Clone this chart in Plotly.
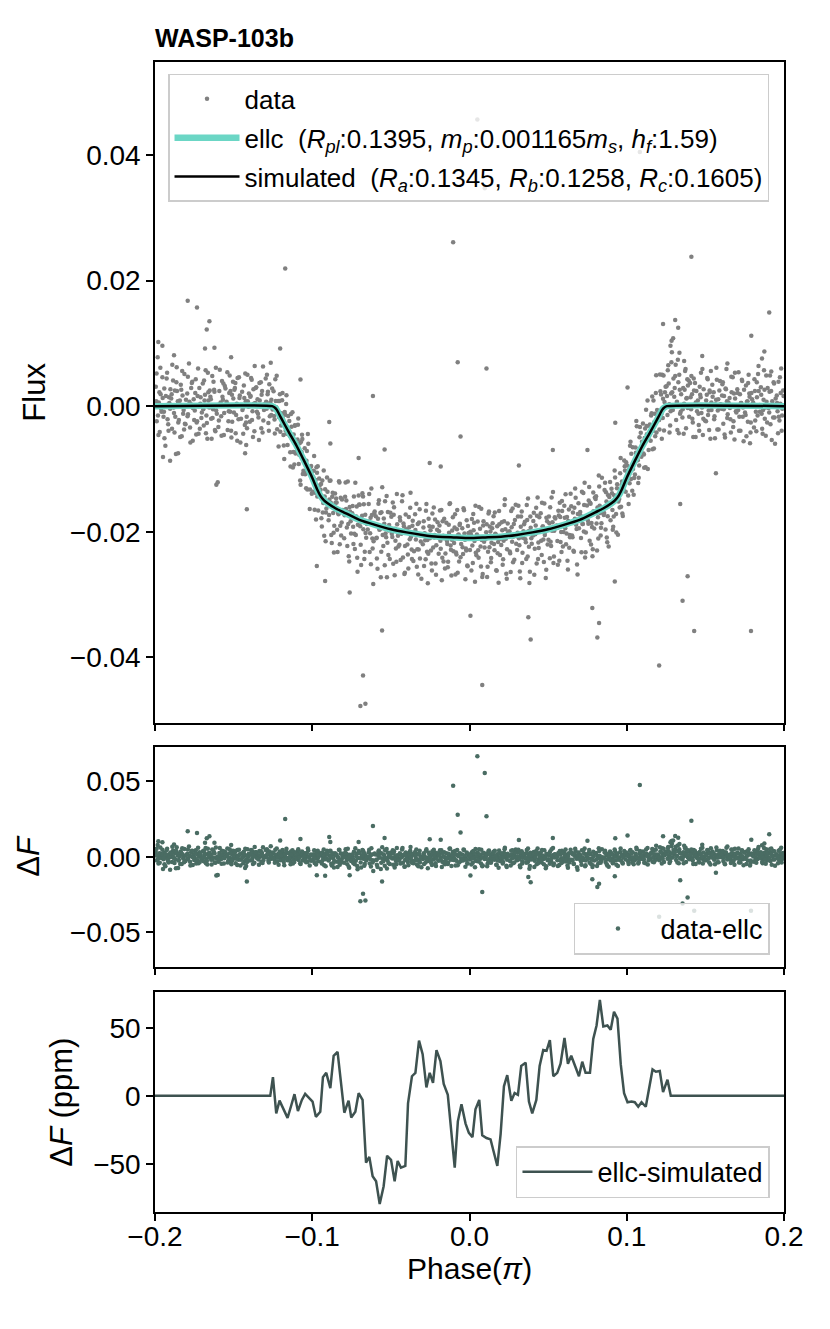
import numpy as np
import plotly.graph_objects as go

# model light curves, phase in units of pi
model_phase = [-0.2, -0.1255, -0.1235, -0.1225, -0.12, -0.115, -0.11, -0.105, -0.1, -0.097,
               -0.095, -0.0925, -0.09, -0.085, -0.08, -0.07, -0.06, -0.05, -0.04, -0.03,
               -0.02, -0.01, 0.0, 0.01, 0.02, 0.03, 0.04, 0.05, 0.06, 0.07, 0.08, 0.085,
               0.09, 0.0925, 0.095, 0.097, 0.1, 0.105, 0.11, 0.115, 0.12, 0.1225, 0.1235,
               0.1255, 0.2]
ellc_flux = [0.0, 0.0, -0.0003, -0.0006, -0.0018, -0.0041, -0.0063, -0.0088, -0.0114, -0.0132,
             -0.0142, -0.0150, -0.0155, -0.0163, -0.0169, -0.0181, -0.0189, -0.0196, -0.0201,
             -0.0205, -0.0208, -0.0209, -0.0210, -0.0209, -0.0208, -0.0205, -0.0201, -0.0196,
             -0.0189, -0.0181, -0.0169, -0.0163, -0.0155, -0.0150, -0.0142, -0.0132, -0.0114,
             -0.0088, -0.0063, -0.0041, -0.0018, -0.0006, -0.0003, 0.0, 0.0]
sim_flux = [0.0, 0.0, -0.0003, -0.0006, -0.0018, -0.0041, -0.0063, -0.0088, -0.0114, -0.0132,
            -0.0142, -0.0150, -0.0155, -0.0163, -0.0169, -0.0181, -0.0189, -0.0196, -0.0201,
            -0.0205, -0.0208, -0.0209, -0.0210, -0.0209, -0.0208, -0.0205, -0.0201, -0.0196,
            -0.0189, -0.0181, -0.0169, -0.0163, -0.0155, -0.0150, -0.0142, -0.0132, -0.0114,
            -0.0088, -0.0063, -0.0041, -0.0018, -0.0006, -0.0003, 0.0, 0.0]

# observations: phase (milli-pi) and data-ellc (milli-flux), main cloud
phase_a = [
    -199.5, -198.9, -198.3, -197.6, -197.0, -196.4, -195.9, -195.3,
    -194.6, -194.1, -193.4, -192.8, -192.3, -191.6, -191.1, -190.4,
    -189.7, -189.2, -188.5, -187.9, -187.4, -186.7, -186.2, -185.5,
    -184.8, -184.2, -183.6, -183.0, -182.5, -181.8, -181.3, -180.6,
    -179.5, -179.0, -178.4, -177.7, -177.2, -176.6, -176.0, -175.4,
    -174.7, -174.1, -173.5, -172.9, -172.3, -171.8, -171.2, -170.5,
    -169.6, -169.0, -168.5, -167.8, -167.3, -166.7, -166.1, -165.5,
    -164.8, -164.3, -163.6, -163.1, -162.4, -161.9, -161.3, -160.7,
    -159.7, -159.1, -158.6, -157.9, -157.4, -156.8, -156.2, -155.6,
    -154.5, -154.0, -153.3, -152.8, -152.2, -151.6, -151.1, -150.4,
    -149.8, -149.2, -148.7, -148.0, -147.5, -146.9, -146.3, -145.7,
    -144.6, -144.1, -143.5, -142.9, -142.3, -141.7, -141.2, -140.5,
    -139.7, -139.2, -138.5, -138.0, -137.4, -136.8, -136.3, -135.6,
    -134.8, -134.2, -133.6, -133.1, -132.4, -131.9, -131.3, -130.7,
    -129.6, -129.0, -128.4, -127.9, -127.3, -126.7, -126.1, -125.5,
    -124.6, -124.0, -123.5, -122.9, -122.3, -121.7, -121.2, -120.6,
    -119.8, -119.2, -118.6, -118.1, -117.5, -116.9, -116.4, -115.7,
    -114.6, -114.0, -113.5, -112.9, -112.3, -111.8, -111.1, -110.6,
    -109.7, -109.1, -108.6, -108.0, -107.4, -106.8, -106.3, -105.6,
    -104.8, -104.3, -103.7, -103.1, -102.5, -101.9, -101.4, -100.7,
    -99.6, -99.0, -98.5, -97.9, -97.3, -96.8, -96.2, -95.6,
    -94.7, -94.2, -93.6, -93.0, -92.4, -91.8, -91.3, -90.6,
    -89.6, -89.1, -88.4, -87.9, -87.3, -86.7, -86.2, -85.5,
    -84.8, -84.2, -83.6, -83.0, -82.5, -81.9, -81.3, -80.6,
    -79.7, -79.1, -78.5, -78.0, -77.4, -76.8, -76.2, -75.6,
    -74.6, -74.0, -73.5, -72.9, -72.3, -71.7, -71.2, -70.5,
    -69.8, -69.2, -68.6, -68.1, -67.5, -66.9, -66.3, -65.7,
    -64.7, -64.1, -63.5, -62.9, -62.4, -61.8, -61.2, -60.6,
    -59.6, -59.0, -58.5, -57.9, -57.3, -56.7, -56.1, -55.5,
    -54.8, -54.2, -53.7, -53.0, -52.5, -51.9, -51.3, -50.7,
    -49.7, -49.1, -48.5, -48.0, -47.3, -46.8, -46.2, -45.5,
    -44.6, -44.1, -43.4, -42.9, -42.3, -41.7, -41.1, -40.6,
    -39.8, -39.2, -38.6, -38.0, -37.5, -36.8, -36.3, -35.7,
    -34.6, -34.1, -33.5, -32.9, -32.3, -31.7, -31.2, -30.6,
    -29.7, -29.1, -28.5, -27.9, -27.4, -26.8, -26.2, -25.5,
    -24.8, -24.2, -23.6, -23.1, -22.4, -21.9, -21.3, -20.6,
    -19.6, -19.1, -18.5, -17.9, -17.3, -16.7, -16.1, -15.6,
    -14.7, -14.1, -13.6, -13.0, -12.4, -11.8, -11.2, -10.6,
    -9.8, -9.2, -8.6, -8.0, -7.5, -6.9, -6.3, -5.7,
    -4.6, -4.1, -3.5, -2.9, -2.3, -1.8, -1.2, -0.6,
    0.3, 0.9, 1.5, 2.1, 2.6, 3.2, 3.8, 4.4,
    5.2, 5.8, 6.4, 7.0, 7.5, 8.1, 8.7, 9.3,
    10.4, 10.9, 11.5, 12.1, 12.7, 13.3, 13.8, 14.4,
    15.3, 15.9, 16.4, 17.0, 17.6, 18.2, 18.8, 19.4,
    20.2, 20.8, 21.4, 22.0, 22.5, 23.1, 23.7, 24.3,
    25.4, 25.9, 26.5, 27.1, 27.7, 28.2, 28.8, 29.4,
    30.3, 30.8, 31.4, 32.0, 32.6, 33.2, 33.7, 34.3,
    35.2, 35.8, 36.4, 37.0, 37.5, 38.1, 38.7, 39.3,
    40.4, 40.9, 41.5, 42.1, 42.7, 43.3, 43.8, 44.4,
    45.3, 45.9, 46.5, 47.0, 47.6, 48.2, 48.8, 49.4,
    50.2, 50.8, 51.3, 51.9, 52.5, 53.1, 53.7, 54.2,
    55.4, 55.9, 56.5, 57.1, 57.7, 58.3, 58.8, 59.4,
    60.3, 60.9, 61.4, 62.0, 62.6, 63.2, 63.7, 64.3,
    65.2, 65.8, 66.4, 67.0, 67.5, 68.1, 68.7, 69.3,
    70.4, 70.9, 71.5, 72.1, 72.7, 73.2, 73.8, 74.4,
    75.3, 75.8, 76.4, 77.0, 77.6, 78.2, 78.7, 79.3,
    80.2, 80.8, 81.4, 81.9, 82.5, 83.1, 83.6, 84.2,
    85.4, 85.9, 86.5, 87.1, 87.6, 88.2, 88.8, 89.4,
    90.3, 90.9, 91.4, 92.0, 92.6, 93.2, 93.8, 94.4,
    95.2, 95.8, 96.4, 97.0, 97.5, 98.1, 98.7, 99.3,
    100.3, 100.9, 101.5, 102.1, 102.7, 103.3, 103.8, 104.4,
    105.2, 105.8, 106.4, 107.0, 107.6, 108.1, 108.7, 109.3,
    110.3, 110.9, 111.4, 112.0, 112.6, 113.2, 113.8, 114.3,
    115.2, 115.8, 116.4, 117.0, 117.5, 118.1, 118.7, 119.3,
    120.2, 120.8, 121.4, 122.0, 122.5, 123.1, 123.7, 124.3,
    125.3, 125.9, 126.4, 127.0, 127.6, 128.2, 128.7, 129.3,
    130.2, 130.8, 131.4, 131.9, 132.5, 133.1, 133.7, 134.3,
    135.4, 135.9, 136.5, 137.1, 137.7, 138.2, 138.8, 139.4,
    140.3, 140.9, 141.5, 142.0, 142.6, 143.2, 143.8, 144.3,
    145.2, 145.8, 146.4, 147.0, 147.5, 148.1, 148.7, 149.3,
    150.4, 150.9, 151.5, 152.1, 152.7, 153.2, 153.8, 154.4,
    155.3, 155.8, 156.4, 157.0, 157.6, 158.2, 158.7, 159.3,
    160.2, 160.8, 161.4, 161.9, 162.5, 163.1, 163.7, 164.2,
    165.4, 165.9, 166.5, 167.1, 167.7, 168.2, 168.8, 169.4,
    170.3, 170.9, 171.4, 172.0, 172.6, 173.2, 173.8, 174.3,
    175.2, 175.8, 176.4, 177.0, 177.5, 178.1, 178.7, 179.3,
    180.4, 180.9, 181.5, 182.1, 182.7, 183.2, 183.8, 184.4,
    185.3, 185.8, 186.4, 187.0, 187.6, 188.2, 188.7, 189.3,
    190.2, 190.8, 191.4, 191.9, 192.5, 193.1, 193.7, 194.3,
    195.4, 195.9, 196.5, 197.1, 197.7, 198.2, 198.8, 199.4,
]
resid_a = [
    3.1, -2.4, 7.8, 0.6, -4.1, 1.9, -0.9, 4.6,
    -1.7, 2.8, -6.3, 0.2, 5.3, -2.9, 1.4, -0.4,
    1.2, -3.6, 4.1, -1.1, 2.5, -7.6, 6.2, 0.8,
    -2.2, 0.9, 3.4, -4.8, 1.7, -0.6, 5.1, -2.9,
    2.0, -1.3, 6.8, -3.4, 0.3, 3.7, -5.5, 1.1,
    -0.7, 4.3, -2.6, 1.6, -4.4, 2.9, 0.4, -1.9,
    3.6, -3.1, 0.9, 5.7, -1.5, -5.2, 2.2, -0.2,
    1.5, -2.0, 4.8, -0.5, 2.6, -3.8, 6.1, -1.2,
    -3.3, 2.4, 0.1, -1.6, 4.0, 1.0, -4.6, 3.2,
    0.7, 5.4, -2.4, 2.1, -0.9, -3.9, 1.8, 3.9,
    -1.0, 2.9, -4.3, 0.4, 4.5, -2.1, 1.3, -5.8,
    2.3, -0.3, 3.3, -3.0, 0.8, -1.7, 5.0, -0.1,
    -2.5, 1.6, 4.2, -0.8, 2.7, -4.0, 0.5, 3.0,
    1.1, -1.8, 3.7, 0.0, -3.5, 2.4, 6.3, -0.6,
    4.4, -0.4, 1.9, -2.7, 3.5, 0.6, -1.4, 2.8,
    2.5, -1.9, 4.6, 0.3, -3.0, 1.8, -0.5, 3.4,
    -1.2, 3.1, 0.4, -3.6, 2.0, -0.7, 5.2, -2.4,
    1.9, -2.8, 3.5, -0.2, -4.5, 1.0, 2.7, -1.5,
    -0.6, 3.8, -2.2, 1.4, -4.9, 0.6, 2.9, -1.8,
    2.2, -1.4, 0.8, -3.5, 4.1, -0.3, -2.6, 1.5,
    -2.0, 1.7, -4.2, 0.9, 3.3, -1.1, -3.0, 2.4,
    1.0, -3.4, 2.8, -0.6, -5.6, 1.9, -1.7, 4.0,
    -2.6, 0.8, 3.9, -4.7, 1.5, -1.0, -7.2, 2.3,
    1.6, -3.3, -0.5, 4.6, -5.4, 2.1, -1.8, 0.3,
    -4.1, 2.6, 0.7, -2.2, 5.2, -6.6, 1.3, -0.9,
    0.5, -1.6, 3.3, -5.0, -2.7, 1.9, -8.4, 3.8,
    2.4, -3.9, -0.2, 4.4, -1.3, -6.0, 1.1, -2.5,
    -1.1, 3.0, -4.6, 0.9, 5.6, -2.3, -9.5, 1.8,
    1.4, -2.0, -6.9, 3.5, -0.6, 2.1, -4.0, 6.3,
    -3.0, 0.6, 4.2, -1.5, -7.8, 2.6, -0.3, -4.8,
    2.0, -1.2, -5.4, 3.6, 0.2, -2.9, 5.8, -0.8,
    -2.2, 1.7, -0.4, 4.8, -4.1, 0.9, -6.5, 2.8,
    0.4, -3.5, 2.5, -1.0, 6.4, -2.6, 1.2, -4.4,
    3.1, -0.9, -5.2, 1.6, -2.4, 4.0, -0.1, -7.0,
    -1.5, 2.2, 0.3, -3.8, 5.0, -0.7, -2.9, 1.5,
    0.9, -4.4, 3.6, -1.8, -0.2, 2.7, -6.1, 1.1,
    -2.7, 1.8, -0.6, 4.3, -3.3, 0.2, 2.9, -5.0,
    2.3, -1.1, -3.9, 0.7, 5.4, -2.0, -0.4, 3.2,
    -0.9, 3.7, -2.4, 1.3, -5.6, 0.5, 2.0, -3.1,
    1.5, -2.6, 4.4, -0.3, -1.7, 2.8, -4.5, 0.8,
    -1.9, 0.6, 3.0, -4.0, 1.2, -0.5, 5.1, -2.8,
    2.6, -3.2, 0.1, -1.4, 4.6, -6.3, 1.9, -0.7,
    -0.2, 2.1, -4.7, 3.8, -1.6, 0.9, -3.3, 1.4,
    3.3, -2.1, 0.5, -5.3, 1.7, -0.8, 4.1, -2.9,
    -1.3, 1.0, -3.6, 2.4, 5.9, -0.4, -6.8, 2.0,
    0.7, -2.8, 3.9, -1.0, -4.3, 1.8, -0.1, 4.8,
    -2.4, 2.9, -0.6, -5.9, 1.2, 3.6, -3.0, 0.4,
    1.9, -1.4, 4.5, -3.7, 0.3, -8.0, 2.6, -0.9,
    -0.5, 3.1, -2.7, 1.0, -5.1, 5.4, -1.8, 2.2,
    2.8, -3.9, 0.6, -1.5, 4.2, -0.3, -6.4, 1.3,
    -1.7, 0.9, 3.4, -2.8, -0.4, 5.7, -4.6, 1.6,
    0.2, -2.3, 2.5, -5.5, 1.4, -1.0, 3.9, -3.4,
    3.0, -0.6, -3.2, 1.1, -7.3, 2.2, -1.9, 4.6,
    -2.1, 1.5, -4.8, 0.4, 3.7, -1.3, -8.6, 2.7,
    1.2, -3.0, 4.3, -0.9, -2.2, 5.5, -5.6, 0.0,
    -0.8, 2.4, -4.1, 1.7, -1.4, -6.8, 3.3, -2.5,
    2.1, -1.9, 0.6, -4.4, 3.8, -0.5, -2.9, 5.0,
    -1.1, 2.8, -3.6, 0.8, -5.8, 1.6, -0.2, 3.5,
    2.3, -1.2, -4.0, 0.9, 3.6, -2.4, 1.5, -6.1,
    -0.7, 3.1, -2.5, 1.2, -4.6, 0.3, 2.6, -1.8,
    1.8, -3.3, 0.5, 4.0, -1.6, -0.4, 2.9, -5.0,
    -2.2, 1.0, 4.9, -0.8, -3.9, 2.3, 0.1, -1.4,
    3.4, -1.8, 0.6, -4.3, 2.0, 5.8, -0.6, 1.3,
    -1.5, 2.6, -3.4, 4.1, 0.4, -2.1, 7.3, 1.5,
    0.8, -2.3, 3.5, -0.4, 5.6, 1.6, -3.6, 2.4,
    3.2, -1.4, 6.5, 0.3, -3.1, 2.0, 8.6, -0.6,
    1.5, 4.8, -2.2, 0.7, 7.4, -4.3, 2.6, -0.9,
    -1.8, 2.9, 0.4, 5.6, -3.5, 1.3, -0.3, 4.1,
    3.7, -0.5, 1.9, -2.6, 4.4, 0.2, -4.9, 2.4,
    0.9, -3.0, 3.1, 1.4, -1.1, 5.9, -2.0, 0.1,
    -2.4, 1.8, 4.3, -0.7, 2.5, -5.2, 0.6, 3.4,
    2.2, -1.6, 0.3, 6.1, -3.7, 1.1, -0.2, 4.0,
    -0.4, 3.5, -2.8, 1.6, -5.0, 2.7, 0.8, -1.3,
    1.3, -2.1, 4.7, 0.1, -3.3, 2.0, 5.3, -0.8,
    2.7, -0.6, -3.9, 1.9, 0.5, 4.2, -1.7, -5.6,
    -1.0, 3.3, 0.7, -2.5, 5.0, 1.5, -4.2, 2.1,
    0.6, -3.4, 2.4, -0.9, 3.8, -1.5, 6.4, 0.2,
    3.0, -1.2, -4.4, 1.0, 2.6, -0.2, 4.9, -2.6,
    -0.3, 2.3, -2.9, 5.5, 0.8, -1.8, 3.6, -6.0,
    1.7, -0.8, 3.9, -2.3, 0.4, 6.0, -1.5, 2.5,
]

# denser core of the cloud
phase_b = [
    -199.2, -198.1, -197.2, -196.1, -195.1, -194.3, -193.1, -192.0, -190.9, -190.2,
    -189.4, -188.2, -187.1, -186.0, -185.2, -184.5, -183.3, -182.1, -181.0, -180.3,
    -179.3, -178.1, -177.0, -175.9, -175.1, -174.4, -173.2, -172.1, -171.0, -170.2,
    -169.3, -168.2, -167.0, -166.0, -165.2, -164.5, -163.4, -162.2, -161.1, -160.3,
    -159.4, -158.3, -157.1, -156.0, -155.2, -154.3, -153.1, -152.0, -150.9, -150.2,
    -149.5, -148.4, -147.2, -146.1, -145.3, -144.4, -143.2, -142.1, -141.0, -140.3,
    -139.4, -138.3, -137.1, -136.0, -135.2, -134.5, -133.4, -132.2, -131.1, -130.4,
    -129.3, -128.2, -127.0, -126.0, -125.2, -124.3, -123.2, -122.0, -120.9, -120.3,
    -119.5, -118.3, -117.2, -116.1, -115.3, -114.3, -113.2, -112.0, -111.0, -110.2,
    -109.4, -108.3, -107.1, -106.0, -105.2, -104.5, -103.4, -102.2, -101.1, -100.3,
    -99.3, -98.2, -97.0, -96.0, -95.3, -94.4, -93.3, -92.1, -91.0, -90.3,
    -89.3, -88.2, -87.0, -86.0, -85.2, -84.5, -83.3, -82.2, -81.1, -80.3,
    -79.4, -78.3, -77.1, -76.0, -75.3, -74.3, -73.2, -72.0, -71.0, -70.2,
    -69.5, -68.3, -67.2, -66.1, -65.3, -64.4, -63.2, -62.1, -61.0, -60.3,
    -59.3, -58.2, -57.0, -56.0, -55.2, -54.5, -53.4, -52.2, -51.1, -50.3,
    -49.4, -48.2, -47.1, -46.0, -45.2, -44.3, -43.2, -42.0, -41.0, -40.3,
    -39.5, -38.3, -37.2, -36.1, -35.3, -34.4, -33.2, -32.1, -31.0, -30.3,
    -29.3, -28.2, -27.0, -26.0, -25.2, -24.5, -23.4, -22.2, -21.1, -20.3,
    -19.4, -18.3, -17.1, -16.0, -15.3, -14.3, -13.2, -12.0, -11.0, -10.2,
    -9.5, -8.3, -7.2, -6.1, -5.3, -4.4, -3.2, -2.1, -1.0, -0.3,
    0.6, 1.8, 2.9, 4.0, 4.7, 5.5, 6.7, 7.8, 8.9, 9.6,
    10.6, 11.8, 12.9, 14.0, 14.7, 15.6, 16.7, 17.9, 18.9, 19.7,
    20.5, 21.7, 22.8, 23.9, 24.6, 25.6, 26.8, 27.9, 28.9, 29.7,
    30.6, 31.7, 32.8, 33.9, 34.7, 35.5, 36.7, 37.8, 38.9, 39.6,
    40.6, 41.8, 42.9, 44.0, 44.7, 45.6, 46.7, 47.9, 48.9, 49.7,
    50.5, 51.6, 52.8, 53.9, 54.6, 55.6, 56.8, 57.9, 58.9, 59.7,
    60.6, 61.7, 62.8, 63.9, 64.7, 65.5, 66.7, 67.8, 68.9, 69.6,
    70.6, 71.8, 72.9, 74.0, 74.7, 75.6, 76.7, 77.9, 78.9, 79.7,
    80.5, 81.7, 82.8, 83.9, 84.6, 85.6, 86.8, 87.9, 88.9, 89.7,
    90.6, 91.7, 92.8, 93.9, 94.7, 95.5, 96.7, 97.8, 98.9, 99.6,
    100.6, 101.8, 102.9, 104.0, 104.7, 105.6, 106.7, 107.9, 108.9, 109.7,
    110.6, 111.7, 112.8, 113.9, 114.7, 115.5, 116.7, 117.8, 118.9, 119.6,
    120.6, 121.8, 122.9, 124.0, 124.7, 125.6, 126.7, 127.9, 128.9, 129.7,
    130.5, 131.7, 132.8, 133.9, 134.6, 135.6, 136.8, 137.9, 138.9, 139.7,
    140.6, 141.7, 142.8, 143.9, 144.7, 145.6, 146.7, 147.9, 148.9, 149.7,
    150.5, 151.7, 152.8, 153.9, 154.6, 155.6, 156.8, 157.9, 158.9, 159.7,
    160.6, 161.7, 162.8, 163.9, 164.7, 165.6, 166.7, 167.9, 168.9, 169.7,
    170.5, 171.6, 172.8, 173.9, 174.6, 175.6, 176.8, 177.9, 178.9, 179.7,
    180.6, 181.7, 182.8, 183.9, 184.7, 185.5, 186.7, 187.8, 188.9, 189.6,
    190.6, 191.8, 192.9, 194.0, 194.7, 195.6, 196.7, 197.9, 198.9, 199.7,
]
resid_b = [
    0.8, -1.5, 2.2, -0.4, 1.3, -0.9, 1.6, -2.1, 0.5, 2.7,
    1.9, -0.2, -1.7, 2.4, -2.6, 0.3, 2.6, -1.2, -2.8, 1.0,
    -1.6, 0.7, 2.9, -0.3, -2.2, 2.1, -2.4, 0.0, 1.4, -1.0,
    -0.5, 1.8, -2.7, 0.9, 2.5, 1.1, -1.9, 2.3, -0.7, 0.2,
    -2.3, 0.6, 1.5, -1.1, 2.8, 0.4, -0.8, 2.4, -2.5, 1.2,
    2.6, -1.4, 0.1, 1.7, -2.0, -0.6, 1.3, -2.6, 0.8, 2.0,
    1.5, -2.2, 0.4, 2.9, -0.9, -1.2, 0.9, 1.8, -2.3, 0.3,
    0.7, 2.3, -1.6, 1.0, -0.5, -1.4, 1.2, -0.3, 2.2, -2.4,
    0.9, -2.0, 1.7, -0.8, 2.4, -0.3, 1.6, -1.9, 2.8, -1.1,
    1.3, -0.6, 2.1, -2.5, 0.2, -1.8, 2.5, 0.0, 1.1, -2.7,
    0.5, -1.3, 2.6, -0.2, 1.4, 2.0, -2.2, 0.7, -1.0, 1.8,
    -1.7, 0.4, 2.2, -2.9, 0.9, 1.0, -0.7, -2.4, 1.9, 0.1,
    -0.4, 2.1, -1.5, 0.6, -2.8, 1.7, -2.6, 0.3, -0.9, 2.4,
    -1.0, 0.8, 2.7, -1.8, -0.3, 0.2, -1.6, 1.4, -2.7, 2.1,
    -2.1, 1.1, -0.5, 2.3, -1.3, 1.4, -0.9, -2.3, 0.6, 2.6,
    -0.7, 2.4, -1.7, 1.0, -2.5, 2.2, -0.3, 1.3, -2.2, 0.5,
    -1.9, 0.9, -0.6, 2.0, -2.8, 0.6, -2.4, 1.9, -1.1, 0.0,
    1.2, -0.8, -2.6, 2.7, -0.4, -2.3, 1.5, 0.2, -1.4, 2.3,
    0.9, -1.9, 2.5, -0.2, -2.6, -0.6, 2.0, -1.3, 1.1, -2.2,
    1.6, -2.7, 0.4, 2.2, -1.0, -1.5, 0.7, -2.0, 1.9, 0.2,
    1.0, -1.2, 2.4, -2.4, 0.5, -2.0, 1.4, -0.4, 2.6, -1.6,
    0.8, -2.3, 1.7, -0.9, 2.2, -1.1, 0.4, -2.6, 2.0, -0.3,
    2.3, -0.7, 1.1, -2.1, 0.6, -2.5, 1.3, -0.2, 2.4, -1.4,
    0.3, -1.7, 2.8, -0.6, 1.5, -0.9, 2.1, -2.2, 0.8, -1.8,
    1.8, -0.4, 2.5, -2.7, 0.1, -1.6, 0.6, -0.8, 1.9, -2.4,
    2.0, -2.1, 0.9, -0.5, 1.4, -0.2, 1.7, -2.6, 2.3, -1.1,
    1.1, -1.5, 0.4, -2.3, 2.6, -2.4, 2.2, -0.6, 1.0, -1.3,
    0.6, -0.9, 2.0, -2.5, 1.7, -1.3, 1.9, -2.1, 0.3, 2.4,
    2.5, -1.0, 0.7, -2.2, -0.4, -0.8, 2.3, -1.7, 1.2, -2.6,
    1.5, -2.4, 0.2, 2.1, -0.9, -2.2, 0.8, -0.5, 1.8, 2.7,
    0.4, -1.8, 2.3, -0.7, -2.5, 1.9, -0.3, -2.1, 2.6, 0.8,
    -1.5, 2.0, 0.6, -2.4, 1.3, 2.4, -0.6, 1.6, -1.9, 0.2,
    -0.7, 2.8, -1.4, 0.9, 3.2, 1.6, 3.6, -0.8, 2.2, 4.4,
    2.9, 0.4, 3.8, -1.2, 1.9, -0.5, 2.6, 1.2, 3.3, -1.7,
    1.4, -2.0, 2.5, 0.6, -0.8, -1.2, 1.8, -0.2, 2.7, -2.3,
    0.9, -1.4, 2.2, -0.6, 1.5, -2.1, 1.0, -0.7, 2.5, 0.3,
    1.7, -0.5, 2.8, -1.9, 0.6, -0.3, 2.2, -2.4, 1.2, -1.0,
    2.1, -1.7, 0.5, -0.2, 2.6, -1.4, 0.8, 2.0, -2.6, 1.1,
    0.2, -2.3, 1.4, 2.4, -0.9, 1.8, -0.6, -2.0, 0.7, 2.9,
    -1.0, 2.4, 0.3, -1.8, 1.2, 0.5, -1.7, 2.1, -0.4, 1.6,
]

# wider fringe of the cloud
phase_c = [
    -199.0, -197.8, -196.6, -194.0, -192.6, -191.4, -189.0, -187.6, -186.4, -184.0,
    -182.7, -181.5, -179.1, -177.5, -176.3, -173.8, -172.6, -171.5, -168.8, -167.6,
    -166.4, -164.0, -162.8, -161.6, -158.8, -157.7, -156.5, -153.8, -152.5, -151.4,
    -148.9, -147.7, -146.6, -143.9, -142.6, -141.5, -138.9, -137.7, -136.6, -133.9,
    -132.7, -131.6, -128.8, -127.6, -126.4, -123.8, -122.6, -121.4, -118.9, -117.8,
    -116.6, -113.8, -112.6, -111.4, -108.9, -107.7, -106.5, -103.9, -102.8, -101.6,
    -98.8, -97.6, -96.5, -93.9, -92.7, -91.5, -88.9, -87.6, -86.4, -83.9,
    -82.7, -81.6, -78.8, -77.7, -76.5, -73.8, -72.6, -71.4, -68.9, -67.7,
    -66.6, -63.8, -62.7, -61.6, -58.9, -57.6, -56.4, -53.9, -52.7, -51.6,
    -48.8, -47.6, -46.5, -43.8, -42.6, -41.4, -38.9, -37.7, -36.6, -33.8,
    -32.6, -31.5, -28.9, -27.7, -26.5, -23.9, -22.7, -21.6, -18.8, -17.6,
    -16.5, -13.8, -12.7, -11.5, -8.9, -7.8, -6.6, -3.8, -2.6, -1.4,
    1.2, 2.4, 3.5, 6.1, 7.3, 8.4, 11.2, 12.4, 13.6, 16.1,
    17.3, 18.5, 21.1, 22.3, 23.4, 26.2, 27.4, 28.5, 31.1, 32.3,
    33.5, 36.1, 37.2, 38.4, 41.2, 42.4, 43.6, 46.1, 47.3, 48.5,
    51.1, 52.2, 53.4, 56.2, 57.4, 58.5, 61.1, 62.3, 63.4, 66.1,
    67.2, 68.4, 71.2, 72.4, 73.5, 76.1, 77.3, 78.4, 81.1, 82.2,
    83.4, 86.2, 87.3, 88.5, 91.1, 92.3, 93.4, 96.1, 97.2, 98.4,
    101.2, 102.4, 103.5, 106.1, 107.3, 108.4, 111.1, 112.3, 113.4, 116.2,
    117.3, 118.5, 121.1, 122.3, 123.4, 126.1, 127.2, 128.4, 131.1, 132.2,
    133.4, 136.2, 137.4, 138.5, 141.1, 142.3, 143.4, 146.1, 147.2, 148.4,
    151.2, 152.4, 153.5, 156.1, 157.3, 158.4, 161.1, 162.2, 163.4, 166.2,
    167.4, 168.5, 171.1, 172.3, 173.4, 176.1, 177.2, 178.4, 181.2, 182.4,
    183.5, 186.1, 187.3, 188.4, 191.1, 192.2, 193.4, 196.2, 197.4, 198.5,
]
resid_c = [
    5.2, -4.6, 6.1, -5.1, 4.4, -3.9, 6.6, -4.2, 3.8, -4.9,
    5.6, -3.7, 4.7, -5.8, 3.9, -4.5, 6.0, -3.6, 4.1, -4.3,
    5.3, -5.2, 3.9, -4.0, 5.8, -4.7, 3.6, -3.8, 4.9, -5.0,
    3.7, -5.5, 4.6, -4.4, 5.2, -3.5, 4.5, -4.9, 6.4, -5.4,
    3.8, -4.2, 5.0, -3.9, 6.9, -4.1, 5.4, -5.3, 4.4, -5.6,
    3.7, -5.0, 4.2, -3.6, 4.9, -4.4, 3.5, -3.7, 5.5, -5.8,
    4.2, -5.2, 3.9, -4.6, 4.7, -6.3, 3.8, -5.9, -4.1, -6.8,
    4.4, -3.9, 4.9, -5.1, -7.4, -4.3, 5.6, -6.2, -7.1, 3.9,
    -4.8, 4.6, -6.5, -3.9, -5.3, 4.1, -8.1, -6.0, 5.1, -4.2,
    4.3, -7.2, -5.0, -4.6, 5.8, -6.7, -5.7, 4.0, -4.1, 4.8,
    -6.4, -3.8, -4.9, 3.9, -7.6, -5.5, 4.6, -4.3, 4.2, -6.9,
    -3.9, -4.8, 5.3, -6.1, -5.9, 4.4, -3.8, 4.7, -6.6, -4.4,
    -5.2, 3.8, -7.0, 4.9, -4.6, -5.8, -6.3, 4.1, -4.0, 3.9,
    -5.4, -7.3, -4.5, 5.0, -6.0, -5.8, 4.3, -3.9, 4.6, -7.0,
    -4.6, -4.1, 5.5, -6.2, -6.8, 3.8, -4.4, 4.4, -5.1, -7.7,
    -4.7, 4.9, -5.6, -6.1, 3.7, -4.2, 4.8, -5.9, -3.9, -4.6,
    5.2, -7.0, -5.3, 4.0, -6.4, 4.5, -4.8, -5.7, -6.2, 5.6,
    -4.1, 3.9, -5.0, -6.6, -4.4, 4.8, -5.4, 5.4, -4.0, 3.7,
    -4.8, 4.5, -3.9, 5.9, -4.6, 3.8, -4.0, 4.7, -5.2, 5.1,
    -3.7, 4.6, 6.3, -4.5, 5.2, 5.7, -4.2, 7.0, 6.6, -3.8,
    5.0, -4.4, 5.9, 4.3, 4.8, -4.9, 3.7, -3.9, 5.3, -4.6,
    4.5, -3.8, 5.6, -5.1, 4.2, -3.7, 3.8, -4.5, 5.9, -4.2,
    4.6, -5.3, 5.4, -3.9, 4.0, -4.8, 3.7, -5.9, 4.3, -4.0,
    5.1, -3.6, 5.7, -4.7, 4.9, -5.4, 3.8, -4.3, 4.6, -3.9,
]

# scattered points away from the cloud
phase_out = [
    -179.2, -173.3, -165.4, -167.1, -117.2, -120.4, -10.4, -7.5, -61.4, -89.2,
    -88.5, -5.7, -70.5, -54.0, -141.6, -160.1, -161.0, -142.7, -142.0, -194.9,
    -190.4, -185.3, -55.6, -67.7, -69.4, -66.2, 0.6, 8.1, 120.6, 179.0,
    142.9, 135.5, 138.7, 134.0, 38.9, 37.4, 81.3, 82.4, 78.1, 156.7,
    5.0, 108.3, 9.7, 141.1, 190.6, 10.8, 130.8, 123.1, 132.7, 53.0,
    75.0, 31.4, -197.9, -195.3, -187.9, -168.2, -162.2, -151.6, 128.5, 127.8,
    129.5, 133.5, 136.5, 148.0, 164.0, 187.5, 186.0, 92.4, -91.8, -97.1,
    -76.2, -107.5, -25.3, -18.3, 92.7, 100.5, 179.2,
]
resid_out = [
    16.8, 15.7, 13.5, 12.2, 25.0, 10.8, 47.0, 27.9, 20.4, 13.1,
    9.8, 16.1, 9.8, 12.4, -16.4, -12.1, -12.5, -7.5, -6.2, -8.1,
    -8.7, -7.5, -16.5, -24.6, -29.6, -29.0, -12.4, -23.5, -39.8, -35.8,
    -35.8, -31.0, -27.1, -15.6, -17.0, -13.4, -20.1, -17.9, -15.0, -10.7,
    66.6, 47.6, 55.6, 23.8, 14.9, 26.9, 13.7, 13.5, 12.5, 12.4,
    10.5, 11.0, 10.2, 9.6, 8.1, 9.2, 9.3, 7.8, 10.4, 9.6,
    10.8, 8.5, 7.2, 8.0, 6.8, 8.7, 7.6, -12.9, -12.7, -12.3,
    -12.3, 11.8, 11.6, 11.2, 12.3, 14.1, 11.2,
]

# ellc - simulated difference (ppm)
ppm_phase = [
    -0.2, -0.1267, -0.1250, -0.1229, -0.1208, -0.1183, -0.1157, -0.1136, -0.1113, -0.1091,
    -0.1066, -0.1045, -0.1023, -0.0998, -0.0977, -0.0949, -0.0932, -0.0911, -0.0885, -0.0864,
    -0.0839, -0.0817, -0.0796, -0.0769, -0.0752, -0.0726, -0.0705, -0.0680, -0.0658, -0.0637,
    -0.0616, -0.0594, -0.0571, -0.0546, -0.0524, -0.0499, -0.0476, -0.0457, -0.0436, -0.0408,
    -0.0391, -0.0366, -0.0344, -0.0321, -0.0298, -0.0274, -0.0253, -0.0232, -0.0210, -0.0185,
    -0.0164, -0.0138, -0.0115, -0.0094, -0.0074, -0.0051, -0.0025, -0.0004, 0.0019, 0.0038,
    0.0062, 0.0081, 0.0108, 0.0134, 0.0155, 0.0177, 0.0198, 0.0219, 0.0240, 0.0266,
    0.0287, 0.0308, 0.0329, 0.0357, 0.0378, 0.0399, 0.0425, 0.0446, 0.0469, 0.0490,
    0.0511, 0.0533, 0.0558, 0.0579, 0.0604, 0.0626, 0.0647, 0.0670, 0.0696, 0.0717,
    0.0738, 0.0766, 0.0787, 0.0808, 0.0829, 0.0851, 0.0877, 0.0898, 0.0919, 0.0941,
    0.0962, 0.0983, 0.1005, 0.1030, 0.1051, 0.1073, 0.1094, 0.1121, 0.1143, 0.1164,
    0.1185, 0.1210, 0.1231, 0.1259, 0.1280, 0.2,
]
ppm_diff = [
    0.0, 0.0, 13.7, -12.9, -3.5, -9.2, -16.2, -8.0, 1.2, -11.2,
    -3.0, 1.5, -1.2, -4.2, -15.4, -11.7, 13.7, 16.9, 5.7, 29.4,
    32.3, 10.7, -12.4, -3.5, -15.9, -11.7, 2.0, -3.0, -49.0, -44.8,
    -59.0, -62.7, -79.4, -66.4, -44.0, -47.0, -62.7, -47.8, -52.7, -51.5,
    -5.5, 14.4, 16.9, 40.6, 30.6, 6.2, 16.9, 9.5, 33.6, 25.6,
    8.7, 0.7, -26.6, -52.7, -18.7, -6.2, -20.4, -27.2, -30.4, -9.8,
    -3.0, -29.0, -31.0, -32.0, -41.6, -51.5, -27.9, 7.0, 15.2, -3.7,
    2.0, 0.7, 21.9, 24.4, -4.2, -12.9, -3.0, 21.9, 33.6, 33.1,
    41.0, 14.4, 16.9, 23.6, 42.5, 23.6, 29.4, 21.9, 14.4, 25.1,
    16.9, 16.9, 41.8, 51.7, 70.4, 51.0, 51.7, 48.5, 61.7, 56.7,
    23.1, 2.0, -4.7, -4.2, -4.7, -8.0, -4.7, -8.0, 7.0, 19.4,
    17.7, 18.2, 2.7, 11.9, 0.0, 0.0,
]

data_phase = np.array(phase_a + phase_b + phase_c + phase_out) / 1000.0
data_resid = np.array(resid_a + resid_b + resid_c + resid_out) / 1000.0
# the top panel shows the raw data, i.e. ellc model plus the residual
data_flux = np.interp(data_phase, model_phase, ellc_flux) + data_resid

FONT = "Liberation Sans, Arial, Helvetica, sans-serif"
GREY = "#808080"
TEAL = "#6bd6c5"
RES_DOT = "#4a6c63"
RES_LINE = "#3e5250"

# the page body adds an 8px offset, so the figure is drawn 8px smaller
W, H = 822, 1321

fig = go.Figure()

fig.add_trace(go.Scatter(
    x=data_phase, y=data_flux, mode="markers", name="data", legendgroup="a",
    marker=dict(color=GREY, size=4.5), xaxis="x", yaxis="y", legend="legend"))
fig.add_trace(go.Scatter(
    x=model_phase, y=ellc_flux, mode="lines", legendgroup="b",
    name="ellc&nbsp; (<i>R</i><sub><i>pl</i></sub>:0.1395, <i>m</i><sub><i>p</i></sub>:0.001165"
         "<i>m</i><sub><i>s</i></sub>, <i>h</i><sub><i>f</i></sub>:1.59)",
    line=dict(color=TEAL, width=6.5, shape="spline", smoothing=0.5),
    xaxis="x", yaxis="y", legend="legend"))
fig.add_trace(go.Scatter(
    x=model_phase, y=sim_flux, mode="lines", legendgroup="c",
    name="simulated&nbsp; (<i>R</i><sub><i>a</i></sub>:0.1345, <i>R</i><sub><i>b</i></sub>:0.1258, "
         "<i>R</i><sub><i>c</i></sub>:0.1605)",
    line=dict(color="black", width=2.5, shape="spline", smoothing=0.5),
    xaxis="x", yaxis="y", legend="legend"))

fig.add_trace(go.Scatter(
    x=data_phase, y=data_resid, mode="markers", name="data-ellc",
    marker=dict(color=RES_DOT, size=4.5), xaxis="x2", yaxis="y2", legend="legend2"))

fig.add_trace(go.Scatter(
    x=ppm_phase, y=ppm_diff, mode="lines", name="ellc-simulated",
    line=dict(color=RES_LINE, width=2.5), xaxis="x3", yaxis="y3", legend="legend3"))

axis_common = dict(
    showline=True, mirror=True, linecolor="black", linewidth=1.5,
    ticks="outside", ticklen=7, tickwidth=1.5, tickcolor="black",
    showgrid=False, zeroline=False,
    tickfont=dict(family=FONT, size=28, color="black"),
)
x_common = dict(axis_common, range=[-0.2, 0.2], tickvals=[-0.2, -0.1, 0.0, 0.1, 0.2],
                tickformat=".1f")
title_font = dict(family=FONT, size=31, color="black")

legend_common = dict(
    bgcolor="rgba(255,255,255,0.8)", bordercolor="#cccccc", borderwidth=1.5,
)

fig.update_layout(
    width=W, height=H,
    margin=dict(l=147, r=46, t=54, b=117),
    paper_bgcolor="white", plot_bgcolor="white",
    font=dict(family=FONT, color="black"),
    title=dict(text="<b>WASP-103b</b>", x=0, xref="paper", xanchor="left",
               y=1 - 30 / H, yref="container", yanchor="middle",
               font=dict(family=FONT, size=25, color="black")),
    xaxis=dict(x_common, domain=[0, 1], anchor="y", showticklabels=False),
    xaxis2=dict(x_common, domain=[0, 1], anchor="y2", showticklabels=False),
    xaxis3=dict(x_common, domain=[0, 1], anchor="y3", ticklabelstandoff=-8),
    yaxis=dict(axis_common, domain=[0.4255, 1.0], anchor="x", range=[-0.0504, 0.0548],
               tickvals=[-0.04, -0.02, 0.0, 0.02, 0.04], tickformat=".2f",
               title=dict(text="Flux", font=title_font, standoff=15)),
    yaxis2=dict(axis_common, domain=[0.2133, 0.4041], anchor="x2", range=[-0.073, 0.0726],
                tickvals=[-0.05, 0.0, 0.05], tickformat=".2f",
                title=dict(text="Δ<i>F</i>", font=title_font, standoff=21)),
    yaxis3=dict(axis_common, domain=[0.0, 0.1910], anchor="x3", range=[-85.3, 76.0],
                tickvals=[-50, 0, 50],
                title=dict(text="Δ<i>F</i> (ppm)", font=title_font, standoff=11)),
    legend=dict(legend_common, x=0.0207, y=0.9896, xanchor="left", yanchor="top",
                itemwidth=65, tracegroupgap=2, font=dict(family=FONT, size=26, color="black")),
    legend2=dict(legend_common, x=0.9777, y=0.2235, xanchor="right", yanchor="bottom",
                 itemwidth=75, font=dict(family=FONT, size=27, color="black")),
    legend3=dict(legend_common, x=0.9777, y=0.0119, xanchor="right", yanchor="bottom",
                 itemwidth=70, font=dict(family=FONT, size=27, color="black")),
    annotations=[dict(text="Phase(<i>π</i>)", xref="paper", yref="paper", x=0.5, y=-0.0495,
                      xanchor="center", yanchor="middle", showarrow=False,
                      font=dict(family=FONT, size=30, color="black"))],
)

fig.write_html("out.html")
